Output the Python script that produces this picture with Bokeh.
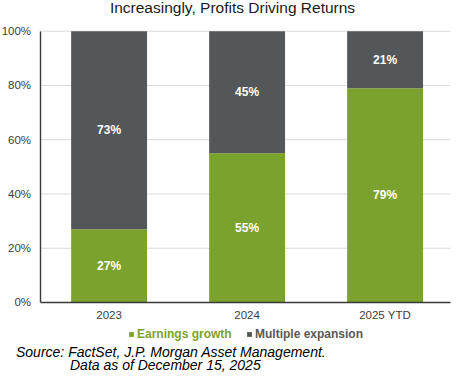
from bokeh.plotting import figure
from bokeh.models import (ColumnDataSource, Label, Legend, LegendItem,
                          PrintfTickFormatter, FixedTicker, Range1d)
from bokeh.core.properties import value
from bokeh.embed import file_html
from bokeh.resources import INLINE

categories = ["2023", "2024", "2025 YTD"]
earnings = [27, 55, 79]
multiple = [73, 45, 21]
series = ["Earnings growth", "Multiple expansion"]
y_ticks = [0, 20, 40, 60, 80, 100]
title_text = "Increasingly, Profits Driving Returns"
source_lines = ["Source: FactSet, J.P. Morgan Asset Management.",
                "Data as of December 15, 2025"]

GREEN = "#7ba22d"
GRAY = "#53575a"
FONT = "Liberation Sans"
W, H = 454, 374
X_END = 2.974          # right end of the plotting area (in category units)

xpos = [i + 0.5 for i in range(len(categories))]
src = ColumnDataSource(dict(
    x=xpos,
    earn=earnings,
    mult=multiple,
    earn_mid=[e / 2 for e in earnings],
    mult_mid=[e + m / 2 for e, m in zip(earnings, multiple)],
    earn_lbl=[f"{e}%" for e in earnings],
    mult_lbl=[f"{m}%" for m in multiple],
))

p = figure(x_range=Range1d(-0.287, 3.003), y_range=Range1d(-26.54, 111.32),
           width=W, height=H, output_backend="svg", toolbar_location=None,
           min_border_left=0, min_border_right=0, min_border_top=0,
           min_border_bottom=0)
p.outline_line_color = None
p.xgrid.visible = False
p.ygrid.visible = False

# horizontal gridlines
gy = y_ticks[1:]
p.segment(x0=[0] * len(gy), x1=[X_END] * len(gy), y0=gy, y1=gy,
          line_color="#d9d9d9", line_width=1)

rs = p.vbar_stack(["earn", "mult"], x="x", width=0.55, source=src,
                  color=[GREEN, GRAY], line_color=None)

for col, lbl in (("earn_mid", "earn_lbl"), ("mult_mid", "mult_lbl")):
    p.text(x="x", y=col, text=lbl, source=src, text_color="white",
           text_font=value(FONT), text_font_size="12px", text_font_style="bold",
           text_align="center", text_baseline="middle")

p.yaxis.ticker = FixedTicker(ticks=y_ticks)
p.yaxis.formatter = PrintfTickFormatter(format="%d%%")
p.yaxis.fixed_location = 0
p.yaxis.bounds = (0, 100)
p.xaxis.ticker = FixedTicker(ticks=xpos)
p.xaxis.major_label_overrides = {x: c for x, c in zip(xpos, categories)}
p.xaxis.fixed_location = 0
p.xaxis.bounds = (0, X_END)
for ax in (p.xaxis, p.yaxis):
    ax.major_tick_line_color = None
    ax.minor_tick_line_color = None
    ax.major_tick_out = 0
    ax.major_tick_in = 0
    ax.minor_tick_out = 0
    ax.axis_line_color = "#3a3a3a"
    ax.axis_line_width = 1.4
    ax.major_label_text_font = FONT
    ax.major_label_text_font_size = "11.5px"
    ax.major_label_text_color = "#404040"
p.yaxis.major_label_standoff = 9
p.xaxis.major_label_standoff = 7

# title
p.add_layout(Label(x=232, y=H - 7, x_units="screen", y_units="screen",
                   text=title_text, text_font=FONT, text_font_size="15.5px",
                   text_color="#1a1a1a", text_align="center",
                   text_baseline="middle"))

# legends (one per series, coloured text)
for r, name, color, loc in ((rs[0], series[0], GREEN, (128, 33)),
                            (rs[1], series[1], "#595959", (246, 33))):
    lg = Legend(items=[LegendItem(label=name, renderers=[r])], location=loc,
                orientation="horizontal", background_fill_alpha=0,
                border_line_color=None, padding=0, margin=0,
                glyph_width=6, glyph_height=6, label_standoff=3,
                label_text_font=FONT, label_text_font_size="12px",
                label_text_font_style="bold", label_text_color=color,
                label_height=6, spacing=0)
    p.add_layout(lg)

# source notes
p.add_layout(Label(x=15.5, y=23, x_units="screen", y_units="screen",
                   text=source_lines[0], text_font=FONT, text_font_size="14px",
                   text_font_style="italic", text_color="#000000",
                   text_baseline="middle"))
p.add_layout(Label(x=69.5, y=9.5, x_units="screen", y_units="screen",
                   text=source_lines[1], text_font=FONT, text_font_size="14px",
                   text_font_style="italic", text_color="#000000",
                   text_baseline="middle"))

open("out.html", "w").write(file_html(p, INLINE))
